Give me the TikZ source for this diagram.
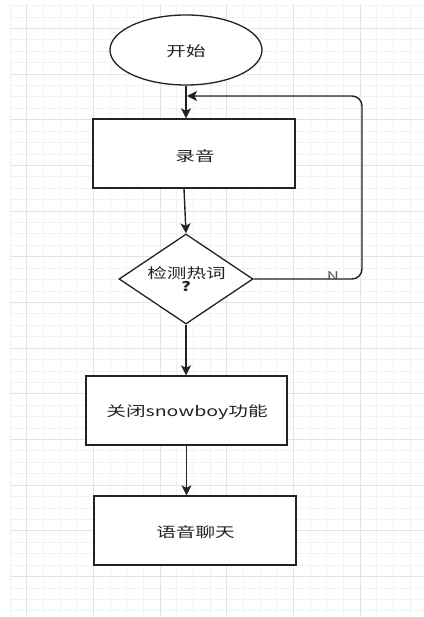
\documentclass[tikz,border=0pt]{standalone}
\usepackage{fontspec}
\usepackage{graphicx}
\setmainfont{Noto Sans CJK SC}
\usetikzlibrary{shapes.geometric,arrows.meta}
\definecolor{gridminor}{HTML}{F2F2F2}
\definecolor{gridmajor}{HTML}{E3E3E3}
\definecolor{ink}{HTML}{222222}
\newcommand{\hs}[1]{\scalebox{1.4}[1]{#1}}
\begin{document}
\begin{tikzpicture}[x=1pt,y=-1pt,
  minorline/.style={gridminor,line width=0.8pt},
  majorline/.style={gridmajor,line width=1pt},
  boxnode/.style={draw=ink,line width=1.3pt,fill=white,rectangle,minimum width=202pt,minimum height=69pt,inner sep=0pt},
  txt/.style={text=ink,font=\fontsize{14pt}{14pt}\selectfont,inner sep=0pt},
  arr/.style={draw=ink,line width=1.4pt,-{Stealth[length=10pt,width=10pt,inset=2.5pt]}}]
\useasboundingbox (0,0) rectangle (423,617);
\fill[white] (0,0) rectangle (423,617);
% grid
\foreach \k in {0,...,24} \draw[minorline] ({10+16.6667*\k},4) -- ({10+16.6667*\k},617);
\foreach \k in {0,...,53} \draw[minorline] (10,{5.5+11.42*\k}) -- (423,{5.5+11.42*\k});
\foreach \k in {1,5,...,21} \draw[majorline] ({10+16.6667*\k},4) -- ({10+16.6667*\k},617);
\foreach \k in {2,6,...,50} \draw[majorline] (10,{5.5+11.42*\k}) -- (423,{5.5+11.42*\k});
% nodes
\node[draw=ink,line width=1.3pt,fill=white,ellipse,minimum width=152pt,minimum height=70pt,inner sep=0pt] (start) at (186,50) {};
\node[txt] (startT) at (186,51.5) {\hs{开始}};
\node[boxnode] (rec) at (194,153.5) {};
\node[txt] (recT) at (195,156) {\hs{录音}};
\node[draw=ink,line width=1.3pt,fill=white,diamond,minimum width=134pt,minimum height=90pt,inner sep=0pt] (dec) at (186,279) {};
\node[txt] (decT) at (186.5,273) {\hs{检测热词}};
\node[txt,font=\fontsize{13pt}{13pt}\selectfont\bfseries] (decQ) at (186,287) {\hs{?}};
\node[boxnode,minimum width=201pt] (off) at (186.5,410.5) {};
\node[txt] (offT) at (187,412) {\hs{关闭snowboy功能}};
\node[boxnode] (chat) at (195,530.5) {};
\node[txt] (chatT) at (195.5,532) {\hs{语音聊天}};
% connectors
\draw[arr] (start.south) -- (start.south |- rec.north);
\draw[arr] ([xshift=-10pt]rec.south) -- (dec.north);
\draw[arr] (dec.south) -- (dec.south |- off.north);
\draw[arr] (off.south) -- (off.south |- chat.north);
\coordinate (loopA) at (362,279);
\coordinate (loopB) at (362,96);
\coordinate (entry) at (187,96);
\draw[arr,rounded corners=10pt] (dec.east) -- (loopA) -- (loopB) -- (entry);
\node[text=ink!75,font=\fontsize{12pt}{12pt}\selectfont,inner sep=0pt,anchor=base] (nlab) at (333,280) {\hs{N}};
\end{tikzpicture}
\end{document}
